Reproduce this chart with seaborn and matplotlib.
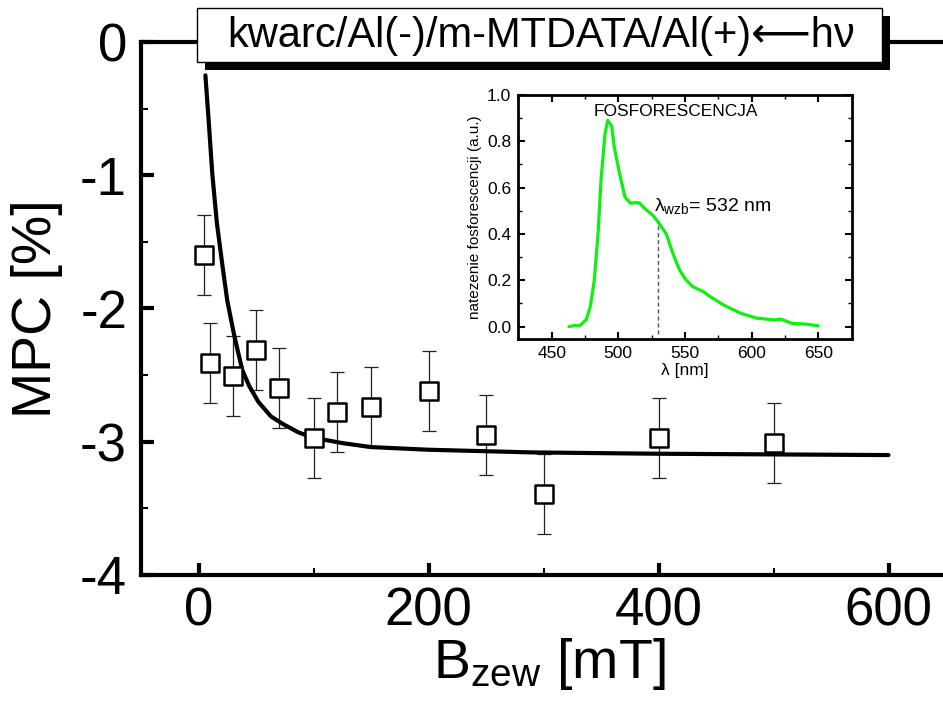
import numpy as np
import pandas as pd
import matplotlib
matplotlib.use('Agg')
import matplotlib.pyplot as plt
from matplotlib.patches import Rectangle
from matplotlib.ticker import MultipleLocator, FormatStrFormatter
import seaborn as sns

# main data: MPC vs external field
b_field = [5, 10, 30, 50, 70, 100, 120, 150, 200, 250, 300, 400, 500]
mpc = [-1.60, -2.41, -2.51, -2.31, -2.60, -2.97, -2.78, -2.74, -2.62, -2.95, -3.39, -2.97, -3.01]
mpc_err = [0.3] * len(b_field)

# fitted curve
fit_b = [6, 9, 12, 16, 21, 25, 31, 38, 44, 52, 63, 74, 87, 100, 125, 150, 200, 290, 400, 500, 600]
fit_mpc = [-0.25, -0.61, -0.99, -1.36, -1.69, -1.94, -2.20, -2.46, -2.58, -2.70, -2.81, -2.87,
           -2.93, -2.97, -3.01, -3.04, -3.06, -3.08, -3.09, -3.095, -3.10]

# inset: phosphorescence spectrum
wl = [463, 468, 471, 476, 479, 482, 485, 487, 490, 492, 495, 497, 501, 505, 509, 514, 516,
      520, 526, 530, 536, 541, 546, 551, 556, 564, 569, 579, 592, 604, 617, 622, 630, 642, 650]
intens = [0.0, 0.005, 0.003, 0.03, 0.086, 0.2, 0.415, 0.63, 0.83, 0.89, 0.867, 0.774, 0.66,
          0.56, 0.533, 0.535, 0.533, 0.509, 0.48, 0.451, 0.40, 0.315, 0.244, 0.2, 0.172, 0.15,
          0.129, 0.093, 0.057, 0.036, 0.029, 0.032, 0.014, 0.01, 0.003]
lambda_wzb = 530

sns.set_style('ticks')
plt.rcParams['font.family'] = ['Liberation Sans', 'DejaVu Sans']
plt.rcParams['mathtext.default'] = 'regular'
plt.rcParams['axes.unicode_minus'] = False
for k in ['text.color', 'axes.labelcolor', 'xtick.color', 'ytick.color', 'axes.edgecolor']:
    plt.rcParams[k] = 'black'

fig = plt.figure(figsize=(9.43, 7.09), dpi=100)
W, H = 943, 709

# ---- main axes ----
ax = fig.add_axes([141 / W, (H - 575) / H, 816.5 / W, 533 / H])
ax.errorbar(b_field, mpc, yerr=mpc_err, fmt='none', ecolor='#222222', elinewidth=0.9,
            capsize=5, capthick=0.9, zorder=2)
sns.lineplot(x=fit_b, y=fit_mpc, color='black', linewidth=3, ax=ax, zorder=3)
sns.scatterplot(x=b_field, y=mpc, marker='s', s=170, facecolor='white', edgecolor='black',
                linewidth=1.8, ax=ax, zorder=4)
ax.set_xlim(-50, 660)
ax.set_ylim(-4, 0)
ax.xaxis.set_major_locator(MultipleLocator(200))
ax.xaxis.set_minor_locator(MultipleLocator(100))
ax.yaxis.set_major_locator(MultipleLocator(1))
ax.yaxis.set_minor_locator(MultipleLocator(0.5))
ax.yaxis.set_major_formatter(FormatStrFormatter('%d'))
ax.tick_params(which='major', direction='in', length=9, width=3, labelsize=38, pad=8)
ax.tick_params(which='minor', direction='in', length=5, width=1.5)
ax.tick_params(axis='y', pad=10)
for s in ['left', 'bottom', 'top']:
    ax.spines[s].set_linewidth(3)
ax.spines['right'].set_visible(False)
ax.set_xlabel('B$_{zew}$ [mT]', fontsize=40, labelpad=0)
ax.set_ylabel('MPC [%]', fontsize=40, labelpad=12)

# ---- title box ----
fig.patches.append(Rectangle((205 / W, (H - 70) / H), 685 / W, 54 / H, transform=fig.transFigure,
                             facecolor='black', edgecolor='none', zorder=5))
fig.patches.append(Rectangle((197 / W, (H - 62) / H), 685 / W, 54 / H, transform=fig.transFigure,
                             facecolor='white', edgecolor='black', linewidth=1, zorder=6))
fig.text(541 / W, 1 - 36 / H, 'kwarc/Al(-)/m-MTDATA/Al(+)\u27f5hν', fontsize=30,
         ha='center', va='center', zorder=7)

# ---- inset ----
axi = fig.add_axes([518.3 / W, (H - 339.3) / H, 333.3 / W, 244.3 / H])
sns.lineplot(x=wl, y=intens, color='#11ee11', linewidth=2.3, ax=axi)
axi.vlines(lambda_wzb, -0.03, 0.451, colors='#555555', linestyles=(0, (3, 2)), linewidth=1)
axi.set_xlim(425, 675)
axi.set_ylim(-0.055, 1.0)
axi.xaxis.set_major_locator(MultipleLocator(50))
axi.xaxis.set_minor_locator(MultipleLocator(25))
axi.yaxis.set_major_locator(MultipleLocator(0.2))
axi.yaxis.set_minor_locator(MultipleLocator(0.1))
axi.yaxis.set_major_formatter(FormatStrFormatter('%.1f'))
axi.tick_params(which='both', direction='in', top=True, right=True, labelsize=12.5, pad=5)
axi.tick_params(which='major', length=5, width=1.5)
axi.tick_params(which='minor', length=3, width=1)
for s in axi.spines.values():
    s.set_linewidth(2)
axi.set_xlabel('λ [nm]', fontsize=12.5, labelpad=1)
axi.set_ylabel('natezenie fosforescencji (a.u.)', fontsize=11, labelpad=4)
axi.text(543, 0.93, 'FOSFORESCENCJA', fontsize=12.5, ha='center', va='center')
axi.text(526.5, 0.52, 'λ$_{wzb}$= 532 nm', fontsize=14, ha='left', va='center')

fig.savefig('out.png', dpi=100)
